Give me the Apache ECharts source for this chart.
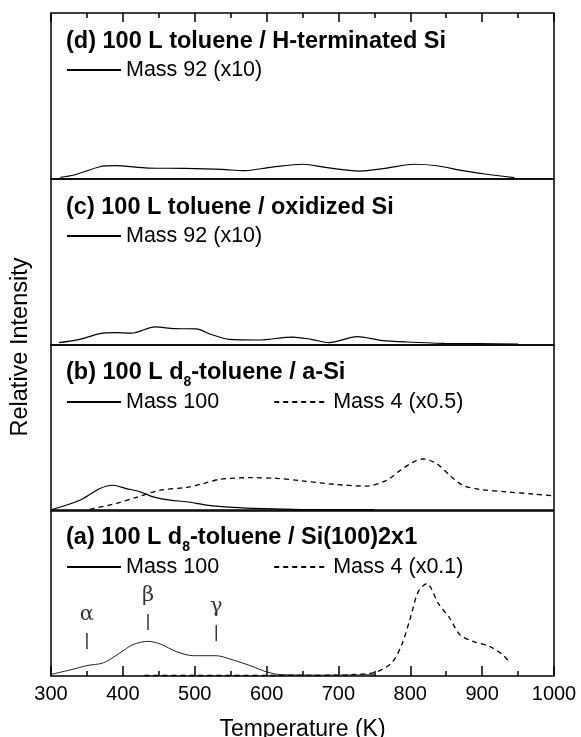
<!DOCTYPE html>
<html>
<head>
<meta charset="utf-8">
<script src="https://cdn.jsdelivr.net/npm/echarts@6/dist/echarts.min.js"></script>
<style>
  html, body { margin: 0; padding: 0; background: #fff; }
  #chart { width: 581px; height: 737px; }
</style>
</head>
<body>
<div id="chart"></div>
<script>
// x ticks
const xMin = 300;
const xMax = 1000;
const xStep = 100;

// (d) toluene / H-terminated Si
const tempD = [313, 332, 368, 389, 435, 486, 538, 569, 605, 651, 682, 729, 765, 806, 837, 873, 904, 945];
const mass92D = [1, 2.4, 7.4, 8, 6.6, 6.4, 5.8, 5, 7, 8.9, 7, 4.8, 6.4, 8.9, 8, 5, 3, 0.8];

// (c) toluene / oxidized Si
const tempC = [311, 340, 368, 389, 412, 445, 471, 502, 522, 548, 589, 636, 662, 687, 726, 759, 795, 847, 950];
const mass92C = [1.4, 3.4, 6.9, 7.5, 7.1, 10.9, 9.9, 9.7, 6.5, 3.4, 3, 4.8, 3.4, 1.4, 5, 2.8, 1.8, 1, 0.6];

// (b) d8-toluene / a-Si
const tempB100 = [302, 322, 345, 368, 386, 405, 424, 442, 466, 489, 517, 553, 595, 650, 750];
const mass100B = [0.4, 3, 7, 13, 15, 13, 11, 8, 6, 5, 3, 1.6, 0.8, 0.3, 0.2];
const tempB4 = [354, 391, 419, 452, 489, 512, 535, 577, 614, 647, 693, 739, 767, 786, 804, 818, 837, 855, 873, 897, 934, 971, 1000];
const mass4B = [0.4, 4, 7.7, 12, 13.7, 16, 18.6, 19.6, 19.2, 17.8, 15.6, 14.5, 18, 24, 29, 30.9, 28, 21, 15, 12.5, 11, 9.7, 8.5];

// (a) d8-toluene / Si(100)2x1
const tempA100 = [300, 326, 350, 373, 396, 414, 435, 452, 475, 498, 530, 549, 577, 600, 620, 700, 750];
const mass100A = [1, 3.6, 6.3, 8, 14, 19, 21, 19.4, 14.7, 12.3, 12.3, 10.3, 6.3, 2.5, 0.8, 0.5, 0.8];
const tempA4 = [430, 500, 600, 700, 716, 751, 774, 788, 800, 811, 823, 839, 855, 869, 887, 911, 929, 939];
const mass4A = [0.3, 0.3, 0.3, 0.5, 0.8, 2.2, 7.9, 18.8, 35, 51, 56, 44, 35, 25, 21, 17.8, 12.7, 7.9];

// peak markers in (a)
const peakNames = ["α", "β", "γ"];
const peakTemps = [350, 435, 530];
const peakLevels = [21.2, 32.7, 26];

const pair = (xs, ys) => xs.map((x, i) => [x, ys[i]]);

const font = "Liberation Sans, Arial, Helvetica, sans-serif";
const panels = [
  { top: 13, height: 166 },
  { top: 179, height: 166 },
  { top: 345, height: 165 },
  { top: 511, height: 165 },
];

const chart = echarts.init(document.getElementById("chart"));

const xAxisBase = {
  type: "value",
  min: xMin,
  max: xMax,
  interval: xStep,
  splitLine: { show: false },
  axisLine: { show: false, onZero: false },
};

const solid = (name, data, grid, color, width) => ({
  name,
  type: "line",
  xAxisIndex: grid,
  yAxisIndex: grid,
  data,
  symbol: "none",
  smooth: 0.3,
  lineStyle: { color: color || "#000", width: width || 1.2 },
  itemStyle: { color: color || "#000" },
  silent: true,
  z: 3,
});
const dashed = (name, data, grid) => ({
  name,
  type: "line",
  xAxisIndex: grid,
  yAxisIndex: grid,
  data,
  symbol: "none",
  smooth: 0.3,
  lineStyle: { color: "#000", width: 1.3, type: [5, 4] },
  itemStyle: { color: "#000" },
  silent: true,
  z: 3,
});

const legendAt = (y, names) => ({
  left: 66,
  top: y - 12,
  padding: 0,
  itemWidth: 54,
  itemHeight: 14,
  itemGap: 54,
  selectedMode: false,
  itemStyle: { opacity: 0 },
  textStyle: { fontFamily: font, fontSize: 21.5, color: "#000", padding: [0, 0, 0, 0] },
  data: names,
});

const titleText = (y, text) => ({
  type: "text",
  left: 66,
  top: y - 12,
  style: {
    text,
    fill: "#000",
    font: "bold 23px " + font,
    rich: {
      b: { fontFamily: font, fontWeight: "bold", fontSize: 23.5, verticalAlign: "top", lineHeight: 25 },
      s: { fontFamily: font, fontWeight: "bold", fontSize: 14, verticalAlign: "top", lineHeight: 16, padding: [14, 0, 0, 0] },
    },
  },
});

chart.setOption({
  animation: false,
  backgroundColor: "#fff",
  grid: panels.map((p) => ({
    left: 51,
    right: 27,
    top: p.top,
    height: p.height,
    outerBoundsMode: "none",
    containLabel: false,
    show: true,
    borderColor: "#000",
    borderWidth: 1.5,
    backgroundColor: "transparent",
  })),
  xAxis: [
    {
      ...xAxisBase,
      gridIndex: 0,
      position: "top",
      axisTick: { show: true, inside: true, length: 9, lineStyle: { color: "#000", width: 1.5 } },
      minorTick: { show: true, splitNumber: 2, length: 5, lineStyle: { color: "#000", width: 1.5 } },
      axisLabel: { show: false },
    },
    { ...xAxisBase, gridIndex: 1, show: false },
    { ...xAxisBase, gridIndex: 2, show: false },
    {
      ...xAxisBase,
      gridIndex: 3,
      position: "bottom",
      axisTick: { show: true, inside: true, length: 10, lineStyle: { color: "#000", width: 1.5 } },
      minorTick: { show: true, splitNumber: 2, length: 5, lineStyle: { color: "#000", width: 1.5 } },
      axisLabel: { fontFamily: font, fontSize: 20, color: "#000", margin: 8, formatter: (v) => String(v) },
      name: "Temperature (K)",
      nameLocation: "middle",
      nameGap: 42,
      nameTextStyle: { fontFamily: font, fontSize: 23, color: "#000" },
    },
  ],
  yAxis: panels.map((p, i) => ({
    type: "value",
    gridIndex: i,
    min: 0,
    max: 100,
    show: false,
  })),
  legend: [
    legendAt(71, ["Mass 92 (x10)"]),
    legendAt(237, ["Mass 92 (x10)"]),
    legendAt(403, ["Mass 100", "Mass 4 (x0.5)"]),
    legendAt(568, ["Mass 100", "Mass 4 (x0.1)"]),
  ],
  graphic: [
    titleText(42, "{b|(d) 100 L toluene / H-terminated Si}"),
    titleText(208, "{b|(c) 100 L toluene / oxidized Si}"),
    titleText(373, "{b|(b) 100 L d}{s|8}{b|-toluene / a-Si}"),
    titleText(538, "{b|(a) 100 L d}{s|8}{b|-toluene / Si(100)2x1}"),
    {
      type: "text",
      x: 21,
      y: 347,
      rotation: Math.PI / 2,
      style: {
        text: "Relative Intensity",
        fill: "#000",
        font: "23.5px " + font,
        align: "center",
        verticalAlign: "middle",
      },
    },
  ],
  series: [
    solid("Mass 92 (x10)", pair(tempD, mass92D), 0),
    solid("Mass 92 (x10)", pair(tempC, mass92C), 1),
    solid("Mass 100", pair(tempB100, mass100B), 2),
    dashed("Mass 4 (x0.5)", pair(tempB4, mass4B), 2),
    solid("Mass 100", pair(tempA100, mass100A), 3, "#222", 1),
    dashed("Mass 4 (x0.1)", pair(tempA4, mass4A), 3),
    {
      name: "peaks",
      type: "scatter",
      xAxisIndex: 3,
      yAxisIndex: 3,
      symbol: "rect",
      symbolSize: [1.5, 16],
      itemStyle: { color: "#000" },
      silent: true,
      label: {
        show: true,
        position: "top",
        distance: 8,
        formatter: (p) => p.name,
        fontFamily: "DejaVu Serif, Liberation Serif, serif",
        fontSize: 21,
        color: "#000",
      },
      data: peakTemps.map((t, i) => ({ name: peakNames[i], value: [t, peakLevels[i]] })),
    },
  ],
});
</script>
</body>
</html>
